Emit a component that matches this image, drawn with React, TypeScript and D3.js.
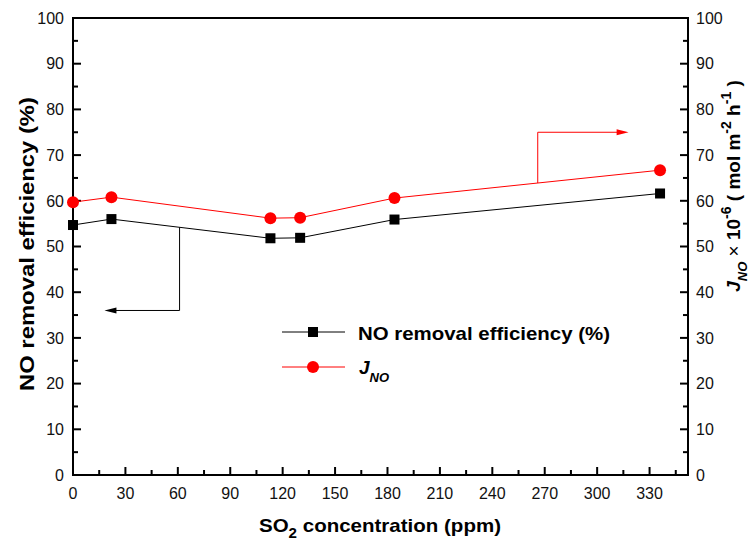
import * as d3 from 'd3';

// SO2 concentration (ppm)
const so2 = [0, 22, 113, 130, 184, 336];
const efficiency = [54.7, 56.0, 51.8, 51.9, 55.9, 61.6];
const jNO = [59.7, 60.8, 56.2, 56.3, 60.6, 66.7];

const xTicks = [0, 30, 60, 90, 120, 150, 180, 210, 240, 270, 300, 330];
const yTicks = [0, 10, 20, 30, 40, 50, 60, 70, 80, 90, 100];

const W = 755;
const H = 543;
const M = { left: 73, right: 67, top: 18, bottom: 68 };
const FONT = '"Liberation Sans", Arial, sans-serif';
const RED = '#ff0000';

export default function App() {
  const x = d3.scaleLinear().domain([0, 352]).range([M.left, W - M.right]);
  const y = d3.scaleLinear().domain([0, 100]).range([H - M.bottom, M.top]);
  const x0 = x.range()[0];
  const x1 = x.range()[1];
  const y0 = y.range()[0];
  const y1 = y.range()[1];

  const pts = so2.map((s, i) => ({ s, e: efficiency[i], j: jNO[i] }));
  const lineE = d3.line<typeof pts[0]>().x((d) => x(d.s)).y((d) => y(d.e));
  const lineJ = d3.line<typeof pts[0]>().x((d) => x(d.s)).y((d) => y(d.j));

  const minorY = d3.range(5, 100, 10);
  const minorX = d3.range(15, 352, 30);

  // annotation arrows in data space
  const interp = (arr: number[], v: number) => {
    const i = d3.bisectRight(so2, v) - 1;
    const t = (v - so2[i]) / (so2[i + 1] - so2[i]);
    return arr[i] + t * (arr[i + 1] - arr[i]);
  };
  const leftArrowX = 61;
  const leftArrowY = 36;
  const leftArrowTip = 18;
  const rightArrowX = 266;
  const rightArrowY = 75;
  const rightArrowTip = 318;

  const legendX = 282;
  const legendY1 = 332;
  const legendY2 = 367;

  return (
    <svg width={W} height={H} style={{ position: 'absolute', left: 0, top: 0, background: '#fff' }} fontFamily={FONT}>
      {/* frame */}
      <rect x={x0} y={y1} width={x1 - x0} height={y0 - y1} fill="none" stroke="#000" strokeWidth={2} />

      {/* y axes ticks, left and right */}
      {yTicks.map((t) => (
        <g key={'yl' + t}>
          <line x1={x0} x2={x0 + 8} y1={y(t)} y2={y(t)} stroke="#000" strokeWidth={2} />
          <line x1={x1} x2={x1 - 8} y1={y(t)} y2={y(t)} stroke="#000" strokeWidth={2} />
          <text x={x0 - 9} y={y(t)} dy="0.36em" textAnchor="end" fontSize={16} fill="#111">{t}</text>
          <text x={x1 + 8} y={y(t)} dy="0.36em" textAnchor="start" fontSize={16} fill="#111">{t}</text>
        </g>
      ))}
      {minorY.map((t) => (
        <g key={'ym' + t}>
          <line x1={x0} x2={x0 + 5} y1={y(t)} y2={y(t)} stroke="#000" strokeWidth={2} />
          <line x1={x1} x2={x1 - 5} y1={y(t)} y2={y(t)} stroke="#000" strokeWidth={2} />
        </g>
      ))}

      {/* bottom axis ticks */}
      {xTicks.map((t) => (
        <g key={'x' + t}>
          <line x1={x(t)} x2={x(t)} y1={y0} y2={y0 - 8} stroke="#000" strokeWidth={2} />
          <text x={x(t)} y={y0 + 24} textAnchor="middle" fontSize={16} fill="#111">{t}</text>
        </g>
      ))}
      {minorX.map((t) => (
        <line key={'xm' + t} x1={x(t)} x2={x(t)} y1={y0} y2={y0 - 5} stroke="#000" strokeWidth={2} />
      ))}

      {/* series */}
      <path d={lineE(pts) ?? ''} fill="none" stroke="#000" strokeWidth={1} />
      <path d={lineJ(pts) ?? ''} fill="none" stroke={RED} strokeWidth={1} />
      {pts.map((d, i) => (
        <rect key={'s' + i} x={x(d.s) - 5} y={y(d.e) - 5} width={10} height={10} fill="#000" />
      ))}
      {pts.map((d, i) => (
        <circle key={'c' + i} cx={x(d.s)} cy={y(d.j)} r={6} fill={RED} />
      ))}

      {/* annotation arrows */}
      <path
        d={`M${x(leftArrowX)},${y(interp(efficiency, leftArrowX))}V${y(leftArrowY)}H${x(leftArrowTip) + 10}`}
        fill="none" stroke="#000" strokeWidth={1}
      />
      <path d={`M${x(leftArrowTip)},${y(leftArrowY)}l12,-3v6z`} fill="#000" />
      <path
        d={`M${x(rightArrowX)},${y(interp(jNO, rightArrowX))}V${y(rightArrowY)}H${x(rightArrowTip) - 10}`}
        fill="none" stroke={RED} strokeWidth={1}
      />
      <path d={`M${x(rightArrowTip)},${y(rightArrowY)}l-12,-3v6z`} fill={RED} />

      {/* legend */}
      <line x1={legendX} x2={legendX + 63} y1={legendY1} y2={legendY1} stroke="#000" strokeWidth={1} />
      <rect x={legendX + 31 - 5} y={legendY1 - 5} width={10} height={10} fill="#000" />
      <text x={358} y={legendY1 + 1} dy="0.36em" fontSize={19} fontWeight="bold" textLength={252} lengthAdjust="spacingAndGlyphs">
        NO removal efficiency (%)
      </text>
      <line x1={legendX} x2={legendX + 63} y1={legendY2} y2={legendY2} stroke={RED} strokeWidth={1} />
      <circle cx={legendX + 31} cy={legendY2} r={6} fill={RED} />
      <text x={359} y={legendY2} dy="0.36em" fontSize={19} fontWeight="bold" fontStyle="italic">
        J<tspan fontSize={13} dy={8}>NO</tspan>
      </text>

      {/* axis titles */}
      <text
        transform={`translate(27,${244}) rotate(-90)`}
        textAnchor="middle"
        dy="0.36em"
        fontSize={20}
        fontWeight="bold"
        textLength={294}
        lengthAdjust="spacingAndGlyphs"
      >
        NO removal efficiency (%)
      </text>
      <text
        transform={`translate(733,${186}) rotate(-90)`}
        textAnchor="middle"
        dy="0.36em"
        fontSize={19}
        fontWeight="bold"
      >
        <tspan fontStyle="italic">J</tspan>
        <tspan fontStyle="italic" fontSize={13} dy={7}>NO</tspan>
        <tspan fontWeight="normal" dy={-7}> × </tspan>
        <tspan>10</tspan>
        <tspan fontSize={14} dy={-9}>-6</tspan>
        <tspan dy={9}> ( mol m</tspan>
        <tspan fontSize={14} dy={-9}>-2</tspan>
        <tspan dy={9}> h</tspan>
        <tspan fontSize={14} dy={-9}>-1</tspan>
        <tspan dy={9}>  )</tspan>
      </text>
      <text x={380} y={532} textAnchor="middle" fontSize={19} fontWeight="bold" textLength={242} lengthAdjust="spacingAndGlyphs">
        SO<tspan fontSize={14} dy={6}>2</tspan><tspan dy={-6}> concentration (ppm)</tspan>
      </text>
    </svg>
  );
}
